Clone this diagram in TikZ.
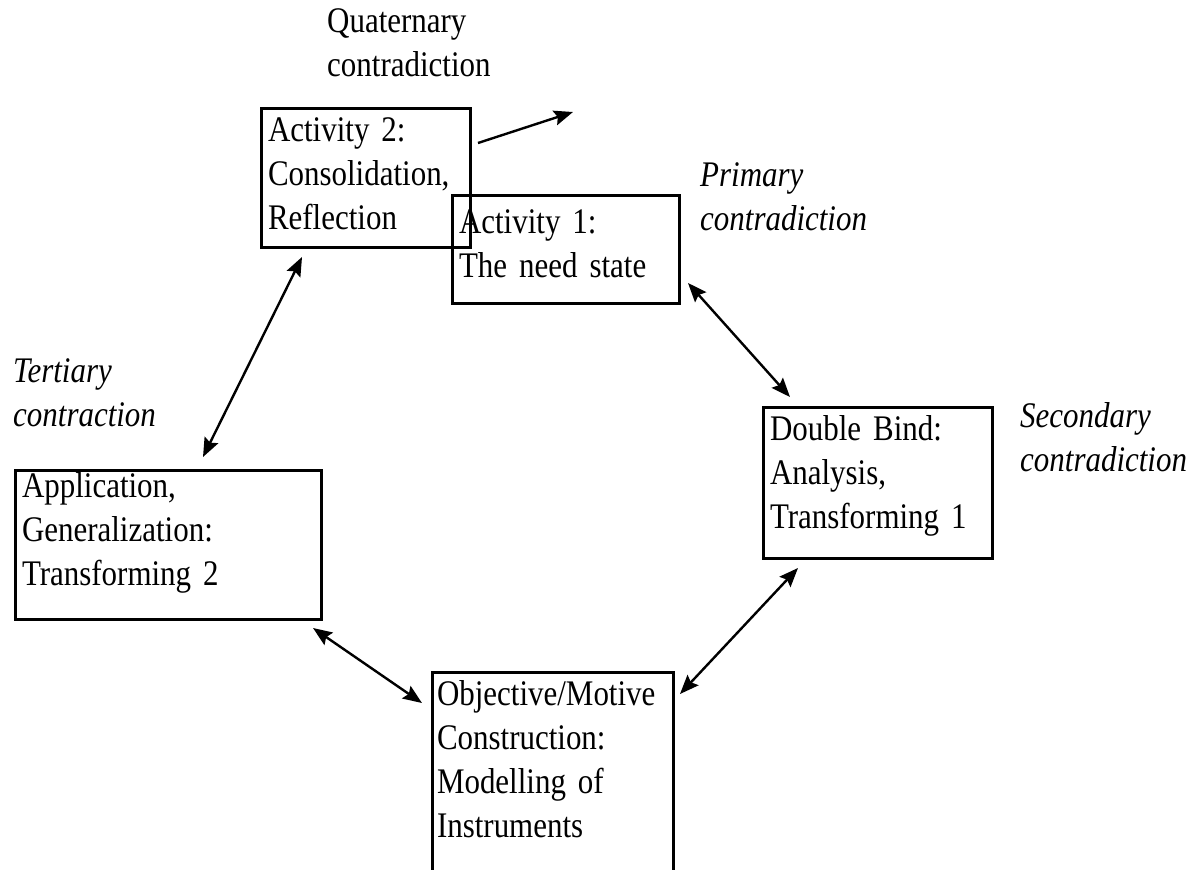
\documentclass[tikz,border=0pt]{standalone}
\usepackage{fontspec}
\setmainfont{Liberation Serif}[FakeStretch=0.86]
\usepackage{tikz}
\usetikzlibrary{arrows.meta, positioning}
\newcommand\boxfont{\fontsize{36}{44}\selectfont\spaceskip=6.5pt plus 2pt minus 1pt\relax}

\begin{document}
\begin{tikzpicture}[
    x=1pt, y=-1pt,
    box/.style={rectangle, draw, line width=3pt, anchor=north west, outer sep=0pt, inner xsep=7pt, inner ysep=8pt, align=left, text height=25pt, font=\boxfont},
    note/.style={anchor=north west, inner sep=0pt, align=left, font=\fontsize{36}{44}\selectfont\itshape},
    arrow/.style={->, >={Stealth[length=19pt, width=15pt, inset=3pt]}, line width=2.4pt}
]
\useasboundingbox (0,0) rectangle (1195,870);
\clip (0,0) rectangle (1195,870);
\node[box, text width=195pt, text depth=98pt] (a2box) at (261,108) {Activity 2:\\Consolidation,\\Reflection};
\node[box, text width=213pt, text height=30pt, text depth=62pt] (a1box) at (452,195) {Activity 1:\\The need state};
\node[box, text width=215pt, text depth=110pt] (dbbox) at (763,407) {Double Bind:\\Analysis,\\Transforming 1};
\node[box, text width=292pt, text height=19pt, text depth=114pt] (appbox) at (15,470) {Application,\\Generalization:\\Transforming 2};
\node[box, text width=231pt, inner xsep=5pt, text depth=177pt] (objbox) at (432,672) {Objective/Motive\\Construction:\\Modelling of\\Instruments};
\node[note, font=\fontsize{36}{44}\selectfont] (quatlab) at (327,8) {Quaternary\\contradiction};
\node[note] (primlab) at (700,162) {Primary\\contradiction};
\node[note] (seclab) at (1020,402) {Secondary\\contradiction};
\node[note] (tertlab) at (13,358) {Tertiary\\contraction};
\coordinate (qend) at (573,112);
\draw[arrow] ([xshift=8pt,yshift=-35pt]a2box.north east) -- (qend);
\draw[arrow, <->] ([xshift=41pt,yshift=-10pt]a2box.south west) -- ([xshift=188pt,yshift=13pt]appbox.north west);
\draw[arrow, <->] ([xshift=9pt,yshift=20pt]a1box.south east) -- ([xshift=27pt,yshift=10pt]dbbox.north west);
\draw[arrow, <->] ([xshift=35pt,yshift=-10pt]dbbox.south west) -- ([xshift=7pt,yshift=-22pt]objbox.north east);
\draw[arrow, <->] ([xshift=-8pt,yshift=-9pt]appbox.south east) -- ([xshift=-10pt,yshift=-31pt]objbox.north west);
\end{tikzpicture}
\end{document}
